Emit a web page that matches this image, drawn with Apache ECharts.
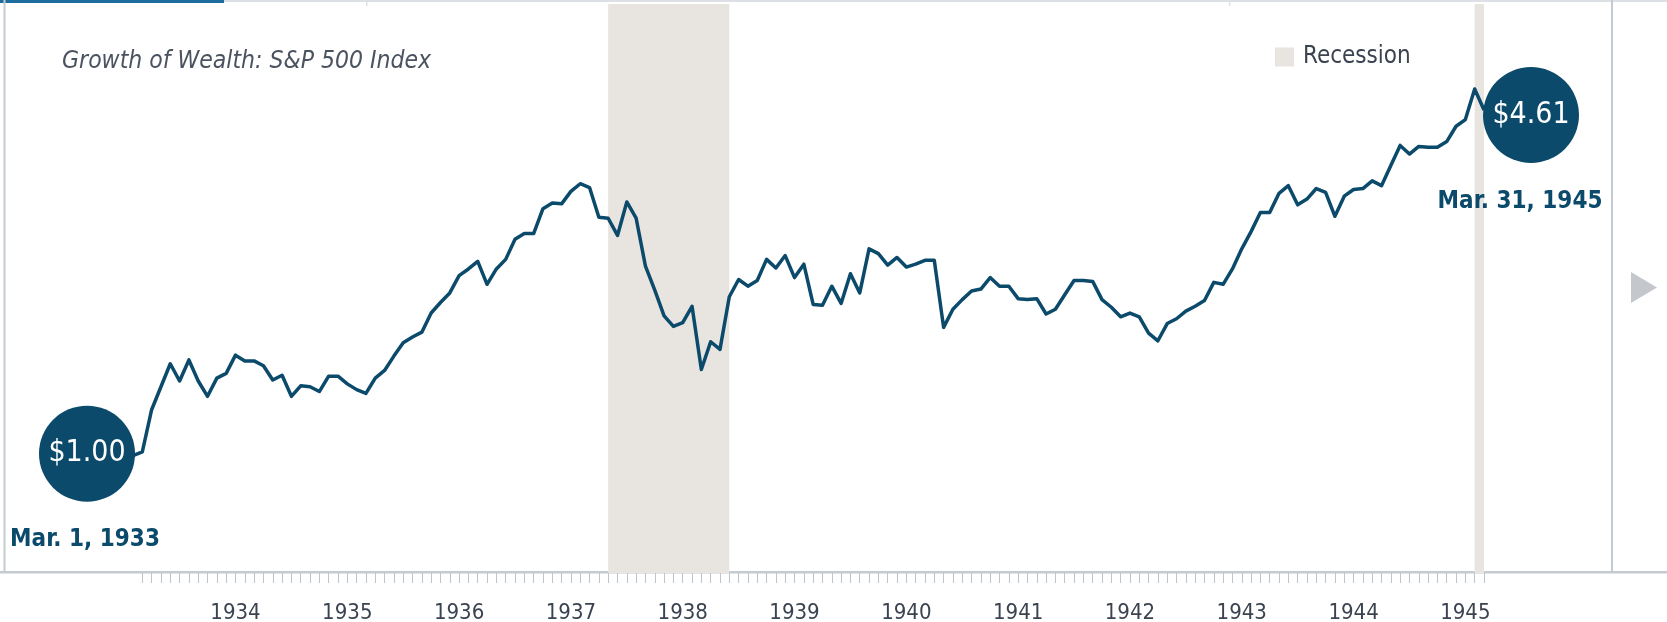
<!DOCTYPE html>
<html>
<head>
<meta charset="utf-8">
<script src="https://cdn.jsdelivr.net/npm/echarts@6/dist/echarts.min.js"></script>
<style>
  html, body { margin: 0; padding: 0; background: #fff; }
  #chart { width: 1667px; height: 622px; }
</style>
</head>
<body>
<div id="chart"></div>
<script>
// months from end of Feb 1933 (= Mar. 1, 1933) to end of Mar 1945
const months = []
for (let y = 1933, m = 2; months.length < 146; m++) {
  if (m > 12) { m = 1; y++ }
  months.push(y + '-' + String(m).padStart(2, '0'))
}

// growth of $1
const wealth = [
  1.00, 1.04, 1.48, 1.72, 1.96, 1.78, 2.00, 1.78, 1.62, 1.81,
  1.86, 2.05, 1.99, 1.99, 1.94, 1.79, 1.84, 1.62, 1.73, 1.72,
  1.67, 1.83, 1.83, 1.75, 1.69, 1.65, 1.81, 1.89, 2.04, 2.18,
  2.24, 2.29, 2.49, 2.60, 2.70, 2.88, 2.95, 3.03, 2.79, 2.95,
  3.05, 3.26, 3.32, 3.32, 3.58, 3.64, 3.63, 3.76, 3.84, 3.80,
  3.49, 3.48, 3.30, 3.65, 3.48, 2.98, 2.73, 2.46, 2.35, 2.39,
  2.56, 1.90, 2.19, 2.11, 2.66, 2.84, 2.77, 2.83, 3.05, 2.96,
  3.09, 2.86, 3.00, 2.58, 2.57, 2.77, 2.59, 2.90, 2.70, 3.16,
  3.11, 2.99, 3.07, 2.97, 3.00, 3.04, 3.04, 2.34, 2.53, 2.63,
  2.72, 2.74, 2.86, 2.77, 2.77, 2.64, 2.63, 2.64, 2.48, 2.53,
  2.68, 2.83, 2.83, 2.82, 2.63, 2.55, 2.45, 2.49, 2.45, 2.28,
  2.20, 2.38, 2.43, 2.51, 2.56, 2.62, 2.81, 2.79, 2.95, 3.16,
  3.34, 3.54, 3.54, 3.74, 3.82, 3.62, 3.68, 3.79, 3.75, 3.50,
  3.71, 3.78, 3.79, 3.87, 3.82, 4.03, 4.24, 4.15, 4.23, 4.22,
  4.22, 4.28, 4.44, 4.51, 4.83, 4.61
]

const recessionStart = ['1937-05', '1945-02']
const recessionEnd = ['1938-06', '1945-03']

const startLabel = 'Mar. 1, 1933'
const endLabel = 'Mar. 31, 1945'

const lineColor = '#0b4a6b'
const bandColor = '#e8e5e0'
const axisGray = '#c5cbd2'
const font = "'Liberation Sans Narrow', 'DejaVu Sans Condensed', 'Roboto', sans-serif"

const chart = echarts.init(document.getElementById('chart'))

const last = months.length - 1

const option = {
  backgroundColor: '#fff',
  animation: false,
  textStyle: { fontFamily: font },
  title: {
    text: 'Growth of Wealth: S&P 500 Index',
    left: 57,
    top: 44,
    textStyle: { fontFamily: font, fontSize: 24.5, fontStyle: 'italic', fontWeight: 'normal', color: '#4b5361' }
  },
  legend: {
    left: 1275,
    top: 45,
    icon: 'rect',
    itemWidth: 19,
    itemHeight: 19,
    padding: 0,
    selectedMode: false,
    data: ['Recession'],
    textStyle: { fontFamily: font, fontSize: 24, color: '#3b4350', padding: [0, 0, 0, 4] }
  },
  grid: { left: 133, right: 183, top: 4, bottom: 49, outerBoundsMode: 'none', containLabel: false },
  xAxis: {
    type: 'category',
    data: months,
    boundaryGap: false,
    axisLine: { show: false, onZero: false },
    axisTick: {
      show: true,
      length: 10,
      interval: (i) => i > 0,
      lineStyle: { color: '#bcc3cb', width: 1 }
    },
    axisLabel: {
      interval: (i, v) => v.endsWith('-01'),
      formatter: (v) => v.slice(0, 4),
      margin: 29,
      fontFamily: font,
      fontSize: 22,
      color: '#3b4350'
    },
    splitLine: { show: false }
  },
  yAxis: {
    type: 'value',
    min: -0.225,
    max: 5.717,
    show: false
  },
  series: [
    {
      name: 'Growth of Wealth',
      type: 'line',
      data: wealth,
      symbol: 'none',
      z: 3,
      lineStyle: { color: lineColor, width: 3.5, join: 'round' },
      markArea: {
        silent: true,
        itemStyle: { color: bandColor },
        data: recessionStart.map((s, i) => [{ xAxis: s }, { xAxis: recessionEnd[i] }])
      },
      markPoint: {
        silent: true,
        data: [
          {
            coord: [months[0], wealth[0]], value: wealth[0],
            symbol: 'circle', symbolSize: 96, symbolOffset: [-46, -2],
            itemStyle: { color: lineColor },
            label: { show: true, position: 'inside', formatter: (p) => '$' + p.value.toFixed(2), color: '#fff', fontFamily: font, fontSize: 30 }
          },
          {
            coord: [months[last], wealth[last]], value: wealth[last],
            symbol: 'circle', symbolSize: 96, symbolOffset: [47, 5],
            itemStyle: { color: lineColor },
            label: { show: true, position: 'inside', formatter: (p) => '$' + p.value.toFixed(2), color: '#fff', fontFamily: font, fontSize: 30 }
          },
          {
            coord: [months[0], wealth[0]], value: 0,
            symbol: 'circle', symbolSize: 1, symbolOffset: [-48, 84],
            itemStyle: { color: 'transparent' },
            label: { show: true, position: 'inside', formatter: startLabel, color: lineColor, fontFamily: font, fontSize: 24, fontWeight: 'bold' }
          },
          {
            coord: [months[last], wealth[last]], value: 0,
            symbol: 'circle', symbolSize: 1, symbolOffset: [36, 92],
            itemStyle: { color: 'transparent' },
            label: { show: true, position: 'inside', formatter: endLabel, color: lineColor, fontFamily: font, fontSize: 24, fontWeight: 'bold' }
          }
        ]
      }
    },
    {
      name: 'Recession',
      type: 'bar',
      data: [],
      itemStyle: { color: bandColor }
    }
  ],
  graphic: [
    // frame: top tab strip, side rules, base rule, arrow
    { type: 'rect', shape: { x: 0, y: 0, width: 1667, height: 2 }, style: { fill: '#dde1e6' }, silent: true },
    { type: 'rect', shape: { x: 0, y: 0, width: 224, height: 3 }, style: { fill: '#1d6e9e' }, silent: true },
    { type: 'rect', shape: { x: 366, y: 0, width: 1.5, height: 6 }, style: { fill: '#dde1e6' }, silent: true },
    { type: 'rect', shape: { x: 1229, y: 0, width: 1.5, height: 6 }, style: { fill: '#dde1e6' }, silent: true },
    { type: 'rect', shape: { x: 3.5, y: 0, width: 2, height: 573 }, style: { fill: axisGray }, silent: true },
    { type: 'rect', shape: { x: 1611, y: 0, width: 2, height: 573 }, style: { fill: axisGray }, silent: true },
    { type: 'rect', shape: { x: 0, y: 571, width: 1667, height: 2.5 }, style: { fill: axisGray }, silent: true },
    { type: 'polygon', shape: { points: [[1631, 272], [1631, 303], [1657, 287.5]] }, style: { fill: '#c4c8cd' }, silent: true }
  ]
}

chart.setOption(option)
</script>
</body>
</html>
